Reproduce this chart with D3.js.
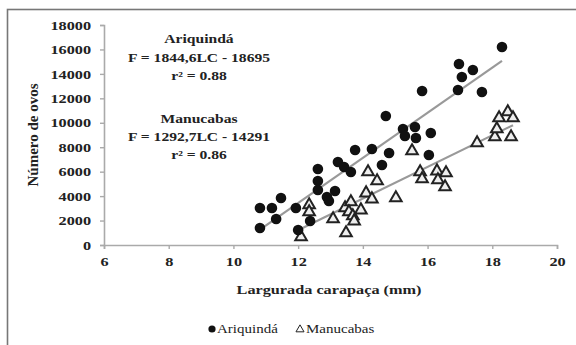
<!DOCTYPE html>
<html>
<head>
<meta charset="utf-8">
<script src="https://cdn.jsdelivr.net/npm/d3@7"></script>
<style>
  html, body { margin: 0; padding: 0; background: #fff; }
  svg { display: block; }
</style>
</head>
<body>
<svg id="chart" width="576" height="345"></svg>
<script>
// Carapace width (mm) vs number of eggs, two localities
const ariquindaLC = [10.82, 11.19, 11.47, 10.82, 11.32, 11.93, 12.0, 12.37, 12.61, 12.61, 12.61, 12.89, 12.95, 13.14, 13.23, 13.42, 13.63, 13.76, 14.28, 14.81, 14.59, 14.71, 15.24, 15.30, 15.61, 15.64, 16.10, 16.04, 15.83, 16.94, 16.97, 17.06, 17.40, 17.68, 18.30];
const ariquindaEggs = [3030, 3030, 3850, 1390, 2130, 3030, 1230, 1960, 6220, 5240, 4500, 3930, 3600, 4420, 6790, 6380, 5970, 7770, 7850, 7530, 6550, 10550, 9490, 8920, 9650, 8750, 9160, 7360, 12600, 12680, 14810, 13750, 14320, 12520, 16200];

const manucabasLC = [12.09, 12.34, 12.34, 13.08, 13.48, 13.45, 13.63, 13.57, 13.69, 13.73, 13.94, 14.10, 14.28, 14.16, 14.44, 15.02, 15.52, 15.77, 15.83, 16.29, 16.57, 16.32, 16.54, 17.53, 18.08, 18.14, 18.21, 18.48, 18.64, 18.58];
const manucabasEggs = [660, 3270, 2700, 2130, 980, 3030, 3520, 2700, 2370, 1960, 2860, 4250, 3760, 5970, 5240, 3850, 7690, 5970, 5400, 6050, 5890, 5320, 4750, 8350, 8840, 9490, 10390, 10880, 10390, 8840];

// Fitted lines: slope and intercept
const fitAriquinda = { slope: 1844.6, intercept: -18695 };
const fitManucabas = { slope: 1292.7, intercept: -14291 };

const seriesNames = ["Ariquindá", "Manucabas"];
const xTicks = [6, 8, 10, 12, 14, 16, 18, 20];
const yTicks = [0, 2000, 4000, 6000, 8000, 10000, 12000, 14000, 16000, 18000];
const annotations = [
  ["Ariquindá", "F = 1844,6LC - 18695", "r² = 0.88"],
  ["Manucabas", "F = 1292,7LC - 14291", "r² = 0.86"]
];
const xTitle = "Largurada carapaça (mm)";
const yTitle = "Número de ovos";

const SERIF = '"Liberation Serif", "Times New Roman", serif';
const SX = 1.25; // horizontal widening of the serif lettering
const svg = d3.select("#chart");

// outer frame
svg.append("rect")
  .attr("x", 7.5).attr("y", 9.5).attr("width", 600).attr("height", 400)
  .attr("fill", "none").attr("stroke", "#777").attr("stroke-width", 1.6);

const x = d3.scaleLinear().domain([6, 20]).range([104, 557]);
const y = d3.scaleLinear().domain([0, 18000]).range([245, 25]);

function wideText(px, py, str, opts = {}) {
  return svg.append("text")
    .attr("transform", `translate(${px},${py}) scale(${opts.sx || SX},1)`)
    .attr("text-anchor", opts.anchor || "middle")
    .attr("dy", "0.35em")
    .attr("fill", "#222")
    .style("font-family", SERIF)
    .style("font-size", (opts.size || 13) + "px")
    .style("font-weight", opts.weight || "bold")
    .text(str);
}

// axes
const yAxis = svg.append("g").attr("transform", "translate(104,0)")
  .call(d3.axisLeft(y).tickValues(yTicks).tickSize(4).tickPadding(9).tickFormat(d3.format("d")));
const xAxis = svg.append("g").attr("transform", "translate(0,245)")
  .call(d3.axisBottom(x).tickValues(xTicks).tickSize(4).tickPadding(8).tickFormat(d3.format("d")));

[yAxis, xAxis].forEach(g => {
  g.attr("font-family", null);
  g.select(".domain").attr("stroke", "#aaa").attr("stroke-width", 1.6);
  g.selectAll(".tick line").attr("stroke", "#aaa").attr("stroke-width", 1.4);
  g.selectAll(".tick text")
    .style("font-family", SERIF)
    .style("font-size", "13px").style("font-weight", "bold").attr("fill", "#222");
});
// widen tick labels while keeping anchor positions
yAxis.selectAll(".tick text").each(function () {
  const t = d3.select(this);
  const x0 = +t.attr("x");
  t.attr("x", x0 / SX).attr("transform", `scale(${SX},1)`);
});
xAxis.selectAll(".tick text").attr("transform", `scale(${SX},1)`);

// regression lines
const lineGen = d3.line().x(d => x(d[0])).y(d => y(d[1]));
[[fitAriquinda, ariquindaLC], [fitManucabas, manucabasLC]].forEach(([fit, xs]) => {
  const ext = d3.extent(xs);
  const pts = ext.map(v => [v, fit.slope * v + fit.intercept]);
  svg.append("path").attr("d", lineGen(pts))
    .attr("fill", "none").attr("stroke", "#999").attr("stroke-width", 2.2);
});

// Manucabas: open triangles
const tri = d3.symbol().type(d3.symbolTriangle).size(58);
svg.append("g").selectAll("path")
  .data(d3.zip(manucabasLC, manucabasEggs))
  .join("path")
  .attr("d", tri)
  .attr("transform", d => `translate(${x(d[0])},${y(d[1])})`)
  .attr("fill", "#eee").attr("stroke", "#222").attr("stroke-width", 2);

// Ariquindá: filled circles
svg.append("g").selectAll("circle")
  .data(d3.zip(ariquindaLC, ariquindaEggs))
  .join("circle")
  .attr("cx", d => x(d[0])).attr("cy", d => y(d[1]))
  .attr("r", 5.3).attr("fill", "#111");

// equation annotations
const annoY = [[38, 57, 75], [118, 136, 154]];
annotations.forEach((lines, i) => {
  lines.forEach((s, j) => wideText(199, annoY[i][j], s, { size: 13, weight: "bold", sx: 1.2 }));
});

// axis titles
wideText(329, 289, xTitle, { size: 13, weight: "bold" });
svg.append("text")
  .attr("transform", "translate(33,135) rotate(-90)")
  .attr("text-anchor", "middle").attr("dy", "0.35em")
  .attr("fill", "#222")
  .style("font-family", SERIF)
  .style("font-size", "15px").style("font-weight", "bold")
  .text(yTitle);

// legend
const legY = 329;
svg.append("circle").attr("cx", 212).attr("cy", legY).attr("r", 3.6).attr("fill", "#111");
wideText(217, legY, seriesNames[0], { anchor: "start", size: 12, weight: "normal" });
svg.append("path").attr("d", d3.symbol().type(d3.symbolTriangle).size(28))
  .attr("transform", `translate(300,${legY + 0.5})`)
  .attr("fill", "none").attr("stroke", "#222").attr("stroke-width", 1);
wideText(306, legY, seriesNames[1], { anchor: "start", size: 12, weight: "normal" });
</script>
</body>
</html>
